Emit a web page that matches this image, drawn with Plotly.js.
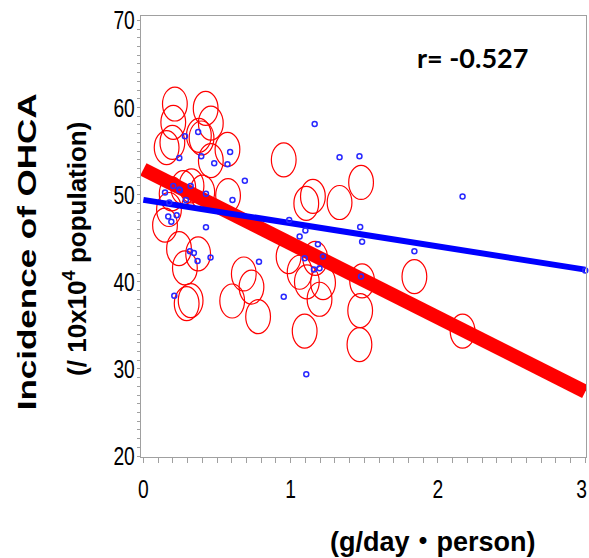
<!DOCTYPE html>
<html>
<head>
<meta charset="utf-8">
<script src="https://cdn.plot.ly/plotly-3.0.1.min.js"></script>
<style>html,body{margin:0;padding:0;background:#fff;}#chart{width:589px;height:558px;}</style>
</head>
<body>
<div id="chart"></div>
<script>
// Red (large) circles
const redX = [0.214,0.203,0.423,0.458,0.377,0.395,0.158,0.197,0.571,0.458,
              0.271,0.327,0.192,0.400,0.575,0.953,
              0.174,0.147,0.242,0.372,0.282,0.294,0.321,0.603,0.682,0.734,0.779,
              1.151,1.106,1.332,1.478,0.986,1.061,1.167,1.110,1.220,1.196,1.485,1.472,1.467,1.095,1.840,2.167];
const redY = [60.4,58.3,59.9,58.2,56.8,56.5,55.4,56.0,55.2,53.9,
              50.8,51.0,50.1,50.3,49.9,54.0,
              48.3,46.5,43.8,43.2,41.6,37.5,37.85,37.8,40.9,39.4,36.0,
              49.8,49.0,49.1,51.4,42.9,41.1,42.7,40.0,39.9,38.0,40.1,36.7,32.8,34.35,40.6,34.35];
// Blue (small) circles
const blueX = [1.163,1.332,1.467,2.167,0.990,1.100,1.061,1.472,1.485,1.185,1.840,1.095,1.219,1.158,1.196,1.478,0.953,1.106,3.000,
               0.147,0.248,0.425,0.605,0.169,0.226,0.190,0.425,0.316,0.343,0.368,0.456,0.785,0.210,
               0.282,0.372,0.244,0.393,0.589,0.481,0.571,0.689,0.203,0.244,0.321,0.176,0.289];
const blueY = [58.1,54.3,54.4,49.8,47.1,45.9,45.2,46.3,44.6,44.3,43.5,42.7,42.9,41.4,41.55,40.6,38.3,29.4,41.3,
               50.25,50.5,50.1,49.4,47.5,47.65,46.9,46.25,43.5,43.3,42.4,42.8,42.3,38.4,
               56.7,57.2,54.2,54.4,54.9,53.6,53.5,51.6,51.0,50.6,51.0,49.1,49.4];
// Regression lines
const fitX = [0, 3];
const redFitY = [52.9, 27.4];
const blueFitY = [49.4, 41.4];
// Tick labels
const xTickVals = [0, 1, 2, 3];
const yTickVals = [20, 30, 40, 50, 60, 70];
const rText = 'r= -0.527';
const yTitle1 = 'Incidence of OHCA';
const yTitle2 = '(/ 10x10<sup>4</sup> population)';
const xTitle = '(g/day\u30FBperson)';

const RX = 0.084, RY = 1.95;
const shapes = redX.map((x, i) => ({
  type: 'circle', xref: 'x', yref: 'y', layer: 'below',
  x0: x - RX, x1: x + RX, y0: redY[i] - RY, y1: redY[i] + RY,
  line: {color: 'rgb(255,0,0)', width: 1.2}, fillcolor: 'rgba(0,0,0,0)'
}));

const traces = [
  {x: fitX, y: redFitY, mode: 'lines', line: {color: 'rgb(255,0,0)', width: 14}, hoverinfo: 'skip'},
  {x: fitX, y: blueFitY, mode: 'lines', line: {color: 'rgb(0,0,255)', width: 6}, hoverinfo: 'skip'},
  {x: blueX, y: blueY, mode: 'markers', cliponaxis: false,
   marker: {symbol: 'circle-open', size: 5, color: 'rgb(40,40,255)', line: {width: 1.5, color: 'rgb(40,40,255)'}}}
];

const grey = '#a0a0a0';
const tickFont = {family: 'Liberation Sans, Arial, sans-serif', size: 26, color: '#000'};
const boldFont = 'Liberation Sans, Arial, sans-serif';

const layout = {
  width: 589, height: 558,
  margin: {l: 141, r: 3, t: 16, b: 101, pad: 0},
  paper_bgcolor: '#fff', plot_bgcolor: '#fff',
  showlegend: false,
  xaxis: {
    range: [-0.016, 3.005], tickmode: 'array', tickvals: xTickVals, ticktext: xTickVals.map(String),
    ticks: 'outside', ticklen: 5, tickcolor: grey, tickwidth: 1,
    minor: {tickmode: 'linear', tick0: 0, dtick: 0.1, ticks: 'outside', ticklen: 5, tickcolor: grey, tickwidth: 1},
    showline: true, mirror: true, linecolor: grey, linewidth: 1, ticklabeloverflow: 'allow',
    showgrid: false, zeroline: false, tickfont: tickFont, ticklabelstandoff: 4
  },
  yaxis: {
    range: [19.9, 70.5], tickmode: 'array', tickvals: yTickVals, ticktext: yTickVals.map(String),
    ticks: 'outside', ticklen: 3, tickcolor: grey, tickwidth: 1,
    minor: {tickmode: 'linear', tick0: 0, dtick: 1, ticks: 'outside', ticklen: 3, tickcolor: grey, tickwidth: 1},
    showline: true, mirror: true, linecolor: grey, linewidth: 1,
    showgrid: false, zeroline: false, tickfont: tickFont, ticklabelstandoff: 3
  },
  shapes: shapes,
  annotations: [
    {text: '<b>' + rText + '</b>', xref: 'paper', yref: 'paper', x: 0.744, y: 0.907, showarrow: false,
     xanchor: 'center', yanchor: 'middle', font: {family: 'Lato, Open Sans, sans-serif', size: 27, color: '#000'}},
    {text: '<b>' + yTitle1 + '</b>', xref: 'paper', yref: 'paper', x: -0.256, y: 0.466, textangle: -90, showarrow: false,
     xanchor: 'center', yanchor: 'middle', font: {family: boldFont, size: 26, color: '#000'}},
    {text: '<b>' + yTitle2 + '</b>', xref: 'paper', yref: 'paper', x: -0.146, y: 0.472, textangle: -90, showarrow: false,
     xanchor: 'center', yanchor: 'middle', font: {family: boldFont, size: 26, color: '#000'}},
    {text: '<b>' + xTitle + '</b>', xref: 'paper', yref: 'paper', x: 0.656, y: -0.193, showarrow: false,
     xanchor: 'center', yanchor: 'middle', font: {family: boldFont + ', Noto Sans CJK JP', size: 27, color: '#000'}}
  ]
};

Plotly.newPlot('chart', traces, layout, {staticPlot: true}).then(gd => {
  gd.querySelectorAll('.annotation-text').forEach(t => {
    if (t.textContent.indexOf('Incidence') === 0) {
      t.setAttribute('textLength', '317');
      t.setAttribute('lengthAdjust', 'spacingAndGlyphs');
    }
  });
  const SQ = 0.74;
  gd.querySelectorAll('.xtick text, .ytick text').forEach(t => {
    const w = t.getComputedTextLength();
    if (!(w > 0)) return;
    const isY = !!t.closest('.ytick');
    const b0 = t.getBBox();
    const nw = w * SQ;
    let newX = isY ? (b0.x + b0.width + 6 - nw) : (b0.x + b0.width / 2 - nw / 2);
    const m = t.getCTM();
    const tx = m ? m.e : 0;
    if (!isY && tx + newX + nw > 587) newX = 587 - tx - nw;
    t.setAttribute('text-anchor', 'start');
    t.setAttribute('x', String(newX));
    t.setAttribute('textLength', String(nw));
    t.setAttribute('lengthAdjust', 'spacingAndGlyphs');
  });
});
</script>
</body>
</html>
